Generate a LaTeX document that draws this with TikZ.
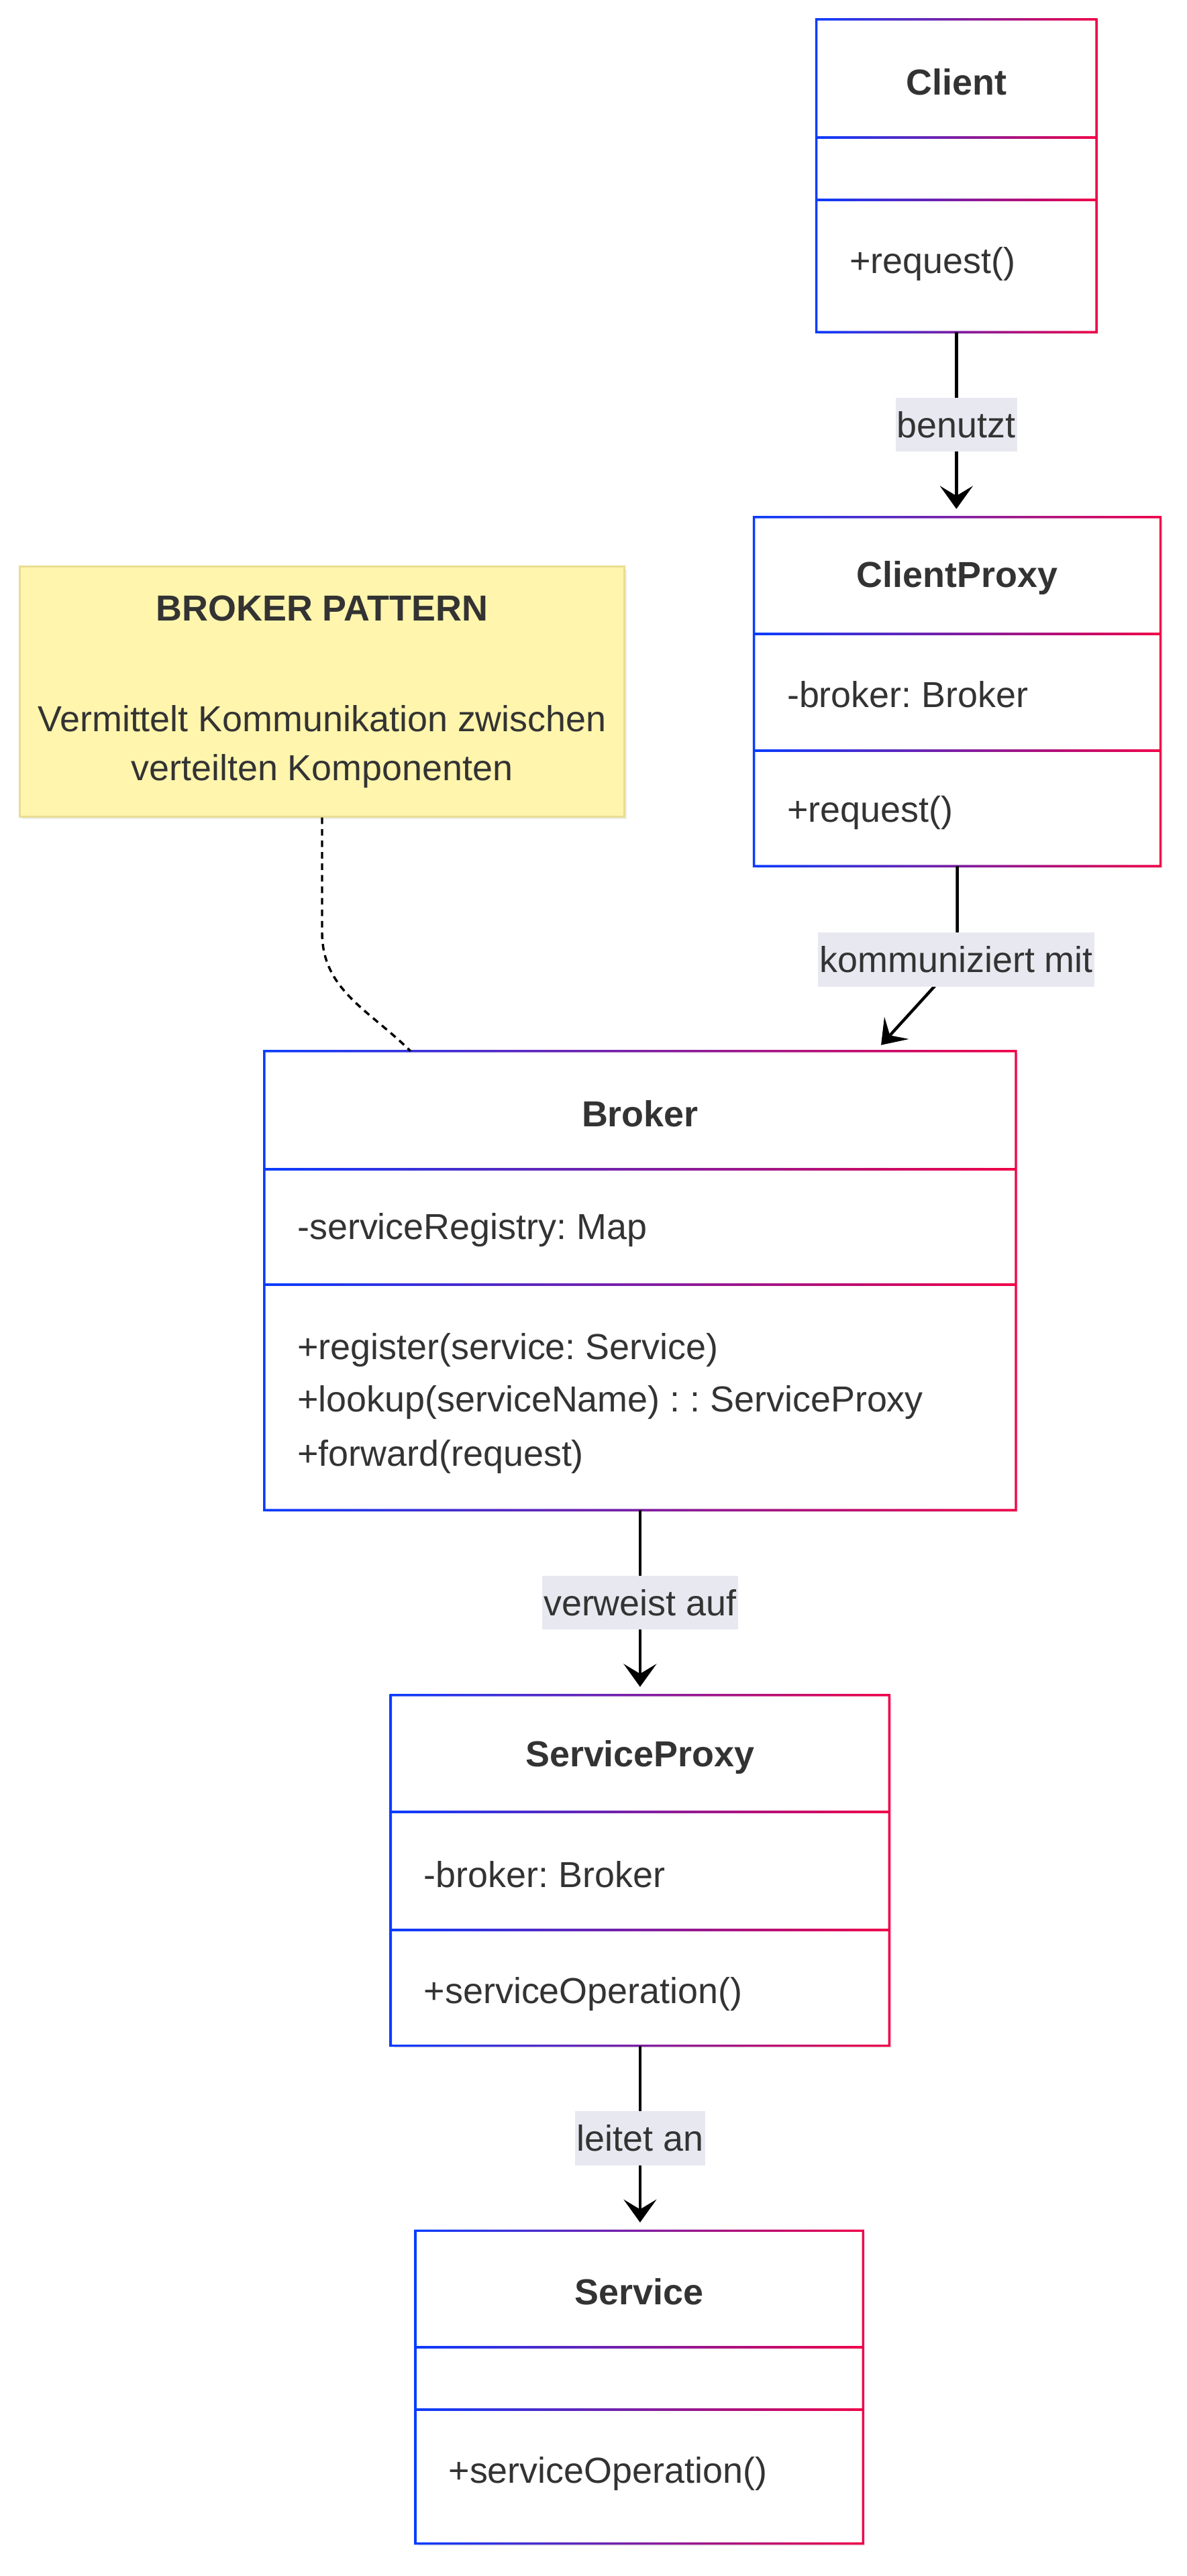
\documentclass[tikz,border=0pt]{standalone}
\usepackage{fontspec}
\setmainfont{Liberation Sans}
\usepackage{xcolor}
\usetikzlibrary{positioning,arrows.meta,shadows,calc}
\frenchspacing

\begin{document}
\begin{tikzpicture}[x=1pt,y=1pt,
  font=\fontsize{22}{32}\selectfont,text=txt,
  uml box/.style={rectangle,fill=white,inner sep=0pt,
    drop shadow={opacity=.15,shadow xshift=1.5pt,shadow yshift=-1.5pt}},
  note box/.style={rectangle,fill=notefill,draw=noteline,line width=1.2pt,inner sep=0pt,
    drop shadow={opacity=.15,shadow xshift=1.5pt,shadow yshift=-1.5pt}},
  uml shade/.style={left color=umlblue,right color=umlred},
  title/.style={font=\fontsize{22}{32}\selectfont\bfseries},
  member/.style={anchor=west,inner sep=0pt},
  edge label/.style={fill=lbl,inner xsep=1pt,inner ysep=0pt,minimum height=33pt},
  assoc/.style={line width=1.8pt,shorten >=5pt,
    -{Stealth[length=14pt,width=20pt,inset=6pt]}},
  note link/.style={line width=1.4pt,dash pattern=on 4pt off 3pt}]
\definecolor{txt}{HTML}{333333} \definecolor{lbl}{HTML}{E8E8F0}
\definecolor{umlblue}{HTML}{0A3CFF} \definecolor{umlred}{HTML}{F00048}
\definecolor{notefill}{HTML}{FFF5AD} \definecolor{noteline}{HTML}{E8DE92}
% gradient frame of a class box, dividers given from the top
\def\gradframe#1#2#3{%
  \shade[uml shade,even odd rule]
    ([shift={(-.7,.7)}]#1.north west) rectangle ([shift={(.7,-.7)}]#1.south east)
    ([shift={(.7,-.7)}]#1.north west) rectangle ([shift={(-.7,.7)}]#1.south east);
  \foreach \off in {#2,#3}
    \shade[uml shade] ([yshift=-\off+.6]#1.north west) rectangle ([yshift=-\off-.6]#1.north east);}
\useasboundingbox[fill=white] (0,0) rectangle (722,-1568);
% boxes
\node[uml box,minimum width=170pt,minimum height=190pt] (client) at (582,-107) {};
\node[uml box,minimum width=247pt,minimum height=212pt] (cproxy) at (582.5,-421) {};
\node[uml box,minimum width=457pt,minimum height=279pt] (broker) at (389.5,-779.5) {};
\node[uml box,minimum width=303pt,minimum height=213pt] (sproxy) at (389.5,-1138.5) {};
\node[uml box,minimum width=272pt,minimum height=190pt] (service) at (389,-1453) {};
\node[note box,minimum width=368pt,minimum height=152pt] (note) at (196,-421) {};
\gradframe{client}{72}{110}
\gradframe{cproxy}{71}{142}
\gradframe{broker}{72}{142}
\gradframe{sproxy}{71}{143}
\gradframe{service}{71}{109}
% texts
\node[title] (client title) at ([yshift=-38]client.north) {Client};
\node[member] (client m1) at ([shift={(20,-149)}]client.north west) {+request()};
\node[title] (cproxy title) at ([yshift=-37]cproxy.north) {ClientProxy};
\node[member] (cproxy a1) at ([shift={(20,-108)}]cproxy.north west) {-broker: Broker};
\node[member] (cproxy m1) at ([shift={(20,-180)}]cproxy.north west) {+request()};
\node[title] (broker title) at ([yshift=-38]broker.north) {Broker};
\node[member] (broker a1) at ([shift={(20,-109)}]broker.north west) {-serviceRegistry: Map};
\node[member] (broker m1) at ([shift={(20,-182)}]broker.north west) {+register(service: Service)};
\node[member] (broker m2) at ([shift={(20,-214)}]broker.north west) {+lookup(serviceName) : : ServiceProxy};
\node[member] (broker m3) at ([shift={(20,-247)}]broker.north west) {+forward(request)};
\node[title] (sproxy title) at ([yshift=-38]sproxy.north) {ServiceProxy};
\node[member] (sproxy a1) at ([shift={(20,-109)}]sproxy.north west) {-broker: Broker};
\node[member] (sproxy m1) at ([shift={(20,-182)}]sproxy.north west) {+serviceOperation()};
\node[title] (service title) at ([yshift=-37]service.north) {Service};
\node[member] (service m1) at ([shift={(20,-148)}]service.north west) {+serviceOperation()};
\node[title] (note title) at ([yshift=-26]note.north) {BROKER PATTERN};
\node (note l1) at ([yshift=-93]note.north) {Vermittelt Kommunikation zwischen};
\node (note l2) at ([yshift=-125]note.north) {verteilten Komponenten};
% connectors
\draw[assoc] (client.south) -- (client.south |- cproxy.north)
  node[edge label,midway] (l benutzt) {benutzt};
\draw[assoc] (cproxy.south) -- ++(0,-58) -- ([xshift=372pt]broker.north west);
\node[edge label] (l komm) at (582,-584) {kommuniziert mit};
\draw[assoc] (broker.south) -- (broker.south |- sproxy.north)
  node[edge label,midway] (l verweist) {verweist auf};
\draw[assoc] (sproxy.south) -- (sproxy.south |- service.north)
  node[edge label,midway] (l leitet) {leitet an};
\draw[note link] (note.south) -- ++(0,-70) to[out=-90,in=135] ([xshift=89pt]broker.north west);
\end{tikzpicture}
\end{document}
